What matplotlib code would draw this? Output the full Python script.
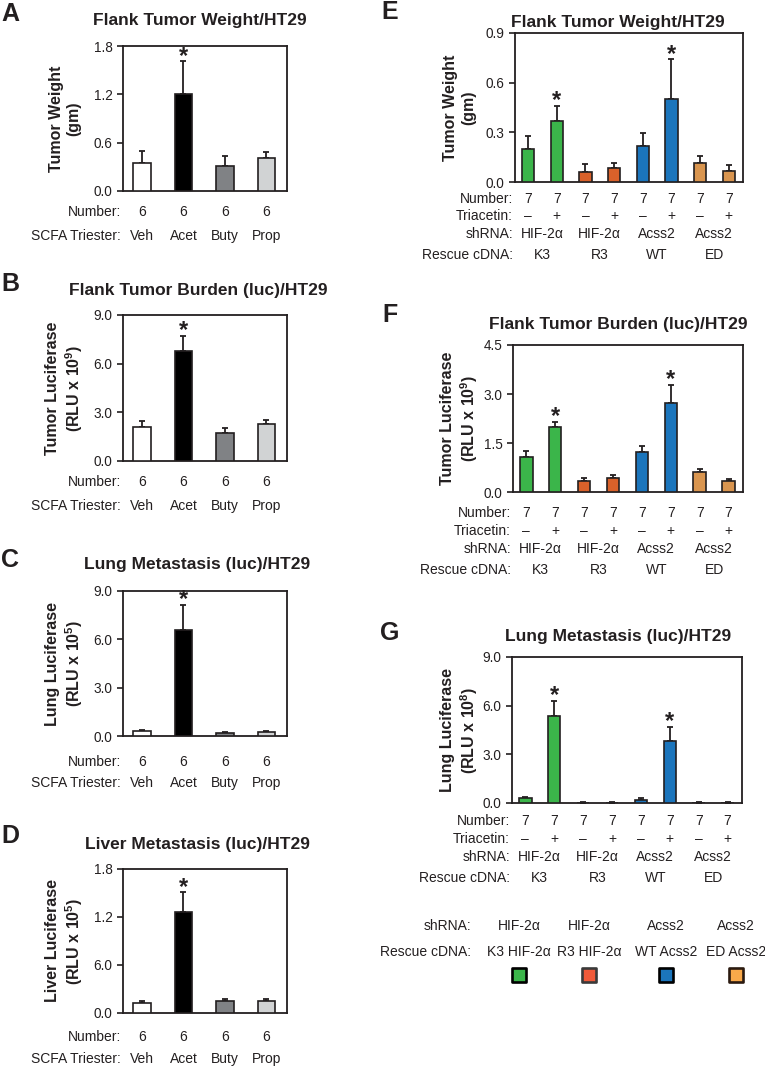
import matplotlib
matplotlib.use('Agg')
import matplotlib.pyplot as plt
import numpy as np
from matplotlib.transforms import blended_transform_factory

plt.rcParams['font.family'] = ['Liberation Sans', 'DejaVu Sans']
plt.rcParams['mathtext.fontset'] = 'custom'
plt.rcParams['mathtext.rm'] = 'Liberation Sans'
plt.rcParams['mathtext.bf'] = 'Liberation Sans:bold'

INK = '#231f20'

# ---- data: SCFA triester panels (A-D)
scfa_groups = ['Veh', 'Acet', 'Buty', 'Prop']
scfa_number = ['6', '6', '6', '6']
scfa_colors = ['white', 'black', '#808285', '#d1d3d4']

weight_a = [0.35, 1.20, 0.31, 0.41]
weight_a_sem = [0.15, 0.41, 0.12, 0.07]
flank_luc_b = [2.10, 6.79, 1.71, 2.27]
flank_luc_b_sem = [0.37, 0.93, 0.33, 0.24]
lung_luc_c = [0.31, 6.56, 0.19, 0.25]
lung_luc_c_sem = [0.06, 1.57, 0.03, 0.03]
liver_luc_d = [0.13, 1.26, 0.15, 0.15]
liver_luc_d_sem = [0.02, 0.25, 0.03, 0.03]

# ---- data: rescue panels (E-G)
rescue_number = ['7'] * 8
triacetin = ['\u2013', '+'] * 4
shrna = ['HIF-2\u03b1', 'HIF-2\u03b1', 'Acss2', 'Acss2']
rescue_cdna = ['K3', 'R3', 'WT', 'ED']
rescue_colors = ['#3bb54a', '#3bb54a', '#d9612a', '#d9612a',
                 '#1b75bc', '#1b75bc', '#d9954f', '#d9954f']

weight_e = [0.197, 0.37, 0.063, 0.083, 0.217, 0.50, 0.115, 0.065]
weight_e_sem = [0.078, 0.09, 0.044, 0.032, 0.078, 0.24, 0.045, 0.035]
flank_luc_f = [1.07, 1.98, 0.34, 0.43, 1.23, 2.72, 0.61, 0.34]
flank_luc_f_sem = [0.18, 0.17, 0.09, 0.08, 0.18, 0.57, 0.09, 0.07]
lung_luc_g = [0.33, 5.36, 0.03, 0.03, 0.21, 3.80, 0.03, 0.03]
lung_luc_g_sem = [0.03, 0.93, 0.01, 0.01, 0.10, 0.91, 0.01, 0.01]

# ---- legend
legend_shrna = ['HIF-2\u03b1', 'HIF-2\u03b1', 'Acss2', 'Acss2']
legend_cdna = ['K3 HIF-2\u03b1', 'R3 HIF-2\u03b1', 'WT Acss2', 'ED Acss2']
legend_colors = ['#3bb54a', '#f05a3a', '#1b75bc', '#f9a94a']
legend_edges = ['black', '#3a3a3a', 'black', '#2b1a10']

W, H = 765, 1067
fig = plt.figure(figsize=(W / 100, H / 100), dpi=100)


def fx(x):
    return x / W


def fy(y):
    return 1 - y / H


def bar_panel(box, means, sems, colors, ymax, ticklabels, stars,
              title, title_xy, letter, letter_xy, ylabel, ylabel_xy, width):
    l, t, r, b = box
    ax = fig.add_axes([fx(l), fy(b), (r - l) / W, (b - t) / H])
    x = np.arange(len(means))
    ax.bar(x, means, width=width, color=colors, edgecolor=INK, linewidth=1.2, zorder=3)
    ax.errorbar(x, means, yerr=[np.zeros(len(sems)), sems], fmt='none',
                ecolor=INK, elinewidth=1.3, capsize=2.2, capthick=1.3, zorder=2)
    for i in stars:
        ax.annotate('*', (x[i], means[i] + sems[i]), xytext=(0, -1),
                    textcoords='offset points', ha='center', va='baseline',
                    fontsize=17, fontweight='bold', color=INK)
    ax.set_xlim(-0.46, len(means) - 0.5)
    ax.set_ylim(0, ymax)
    ax.set_yticks(np.linspace(0, ymax, 4))
    ax.set_yticklabels(ticklabels)
    ax.set_xticks([])
    ax.tick_params(axis='y', direction='out', length=4.5, width=1.2,
                   labelsize=9.8, pad=3, colors=INK)
    for s in ax.spines.values():
        s.set_linewidth(1.3)
        s.set_color(INK)
    fig.text(fx(title_xy[0]), fy(title_xy[1]), title, ha='center', va='center',
             fontsize=12.5, fontweight='bold', color=INK)
    fig.text(fx(letter_xy[0]), fy(letter_xy[1]), letter, ha='center', va='center',
             fontsize=18, fontweight='bold', color=INK)
    fig.text(fx(ylabel_xy[0]), fy(ylabel_xy[1]), ylabel, ha='center', va='center',
             rotation=90, fontsize=11.5, fontweight='bold', color=INK,
             multialignment='center', linespacing=1.25)
    return ax


def table_rows(ax, label_x, rows):
    tr = blended_transform_factory(ax.transData, fig.transFigure)
    for label, y, xs, vals in rows:
        fig.text(fx(label_x), fy(y), label, ha='right', va='center', fontsize=10, color=INK)
        for xv, v in zip(xs, vals):
            ax.text(xv, fy(y), v, transform=tr, ha='center', va='center',
                    fontsize=10, color=INK, clip_on=False)


x4 = np.arange(4)
x8 = np.arange(8)
pairs = x8.reshape(4, 2).mean(axis=1)

left_panels = [
    ((123, 46, 287, 191), weight_a, weight_a_sem, 1.8, ['0.0', '0.6', '1.2', '1.8'],
     'Flank Tumor Weight/HT29', 200, 21, 'A', 14, 'Tumor Weight\n(gm)', 212, 236),
    ((123, 315, 287, 461), flank_luc_b, flank_luc_b_sem, 9.0, ['0.0', '3.0', '6.0', '9.0'],
     'Flank Tumor Burden (luc)/HT29', 198, 291, 'B', 284,
     'Tumor Luciferase\n(RLU x 10$^{\\mathbf{9}}$)', 482, 506),
    ((123, 591, 287, 736), lung_luc_c, lung_luc_c_sem, 9.0, ['0.0', '3.0', '6.0', '9.0'],
     'Lung Metastasis (luc)/HT29', 197, 565, 'C', 560,
     'Lung Luciferase\n(RLU x 10$^{\\mathbf{5}}$)', 762, 783),
    ((123, 869, 287, 1013), liver_luc_d, liver_luc_d_sem, 1.8, ['0.0', '6.0', '1.2', '1.8'],
     'Liver Metastasis (luc)/HT29', 197, 845, 'D', 836,
     'Liver Luciferase\n(RLU x 10$^{\\mathbf{5}}$)', 1037, 1059),
]
for box, m, s, ymax, tl, title, tx, ty, let, ly, ylab, r1, r2 in left_panels:
    ax = bar_panel(box, m, s, scfa_colors, ymax, tl, [1], title, (tx, ty), let, (10, ly),
                   ylab, (65, (box[1] + box[3]) / 2), 0.42)
    table_rows(ax, 121, [('Number:', r1, x4, scfa_number),
                         ('SCFA Triester:', r2, x4, scfa_groups)])

right_panels = [
    ((515, 33, 743, 182), weight_e, weight_e_sem, 0.9, ['0.0', '0.3', '0.6', '0.9'],
     'Flank Tumor Weight/HT29', 22, 'E', 12, 'Tumor Weight\n(gm)', (199, 216, 234, 255)),
    ((513, 345, 743, 492), flank_luc_f, flank_luc_f_sem, 4.5, ['0.0', '1.5', '3.0', '4.5'],
     'Flank Tumor Burden (luc)/HT29', 325, 'F', 315,
     'Tumor Luciferase\n(RLU x 10$^{\\mathbf{9}}$)', (513, 531, 549, 570)),
    ((512, 657, 742, 803), lung_luc_g, lung_luc_g_sem, 9.0, ['0.0', '3.0', '6.0', '9.0'],
     'Lung Metastasis (luc)/HT29', 637, 'G', 633,
     'Lung Luciferase\n(RLU x 10$^{\\mathbf{8}}$)', (821, 839, 857, 878)),
]
for box, m, s, ymax, tl, title, ty, let, ly, ylab, rows in right_panels:
    ax = bar_panel(box, m, s, rescue_colors, ymax, tl, [1, 5], title, (618, ty), let, (390, ly),
                   ylab, (460, (box[1] + box[3]) / 2), 0.43)
    table_rows(ax, box[0] - 2, [('Number:', rows[0], x8, rescue_number),
                                ('Triacetin:', rows[1], x8, triacetin),
                                ('shRNA:', rows[2], pairs, shrna),
                                ('Rescue cDNA:', rows[3], pairs, rescue_cdna)])

# legend block
leg_x = [519, 589, 666, 736]
lax = fig.add_axes([0, 0, 1, 1], facecolor='none')
lax.set_xlim(0, W)
lax.set_ylim(H, 0)
lax.axis('off')
lax.text(471, 926, 'shRNA:', ha='right', va='center', fontsize=10, color=INK)
lax.text(471, 952, 'Rescue cDNA:', ha='right', va='center', fontsize=10, color=INK)
for xc, sh, cd in zip(leg_x, legend_shrna, legend_cdna):
    lax.text(xc, 926, sh, ha='center', va='center', fontsize=10, color=INK)
    lax.text(xc, 952, cd, ha='center', va='center', fontsize=10, color=INK)
lax.scatter(leg_x, [975] * 4, s=110, marker='s', c=legend_colors,
            edgecolors=legend_edges, linewidths=1.9)

fig.savefig('out.png', dpi=100)
